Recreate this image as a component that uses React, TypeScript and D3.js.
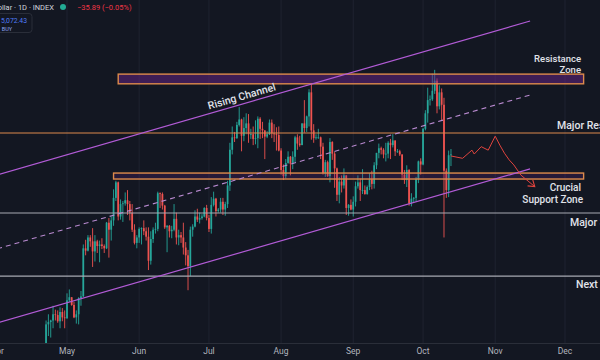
import React from "react";
import * as d3 from "d3";

// ---------- DATA (BTC/USD daily, values in thousands USD: [open, high, low, close]) ----------
const aprStart = "2025-04-22";
const aprCandles: number[][] = [
  [87.5, 93.9, 87.0, 93.4], [93.4, 94.7, 91.9, 93.7], [93.7, 94.0, 91.7, 93.9], [93.9, 95.8, 92.9, 94.7],
  [94.7, 95.3, 93.9, 94.6], [94.6, 95.2, 93.6, 93.8], [93.8, 95.6, 92.9, 95.0], [95.0, 95.5, 93.8, 94.3],
  [94.3, 95.2, 92.9, 94.2],
];
const mayStart = "2025-05-01";
const mayCandles: number[][] = [
  [94.2, 97.4, 94.1, 96.5], [96.5, 97.9, 96.3, 96.9], [96.9, 96.9, 95.8, 95.9], [95.9, 96.3, 94.2, 94.3],
  [94.3, 95.2, 93.5, 94.7], [94.7, 96.9, 93.4, 96.8], [96.8, 97.7, 95.8, 97.0], [97.0, 103.7, 96.9, 103.2],
  [103.2, 104.3, 102.3, 102.9], [102.9, 104.9, 102.8, 104.6], [104.6, 104.9, 103.4, 104.1], [104.1, 105.8, 100.8, 102.8],
  [102.8, 104.9, 101.5, 104.1], [104.1, 104.3, 102.6, 103.5], [103.5, 104.2, 101.4, 103.7], [103.7, 104.5, 103.1, 103.5],
  [103.5, 103.7, 102.6, 103.2], [103.2, 106.6, 103.1, 106.5], [106.5, 107.1, 102.0, 105.6], [105.6, 107.3, 104.2, 106.8],
  [106.8, 110.8, 106.1, 109.7], [109.7, 111.9, 109.3, 111.7], [111.7, 111.8, 106.8, 107.3], [107.3, 109.5, 106.9, 108.9],
  [108.9, 109.3, 106.6, 109.0], [109.0, 110.4, 108.7, 109.4], [109.4, 110.7, 107.5, 108.9], [108.9, 109.3, 106.8, 107.8],
  [107.8, 108.9, 105.3, 105.6], [105.6, 106.3, 103.7, 103.9], [103.9, 104.9, 103.2, 104.6],
];
const junStart = "2025-06-01";
const junCandles: number[][] = [
  [104.6, 105.9, 103.9, 105.7], [105.7, 105.9, 103.7, 105.8], [105.8, 106.8, 104.9, 105.4], [105.4, 105.9, 104.2, 104.7],
  [104.7, 105.9, 100.4, 101.6], [101.6, 105.4, 101.1, 104.4], [104.4, 105.9, 103.9, 105.6], [105.6, 106.5, 105.1, 105.7],
  [105.7, 110.5, 105.4, 110.3], [110.3, 110.4, 108.4, 110.2], [110.2, 110.4, 108.2, 108.7], [108.7, 108.8, 105.7, 105.9],
  [105.9, 106.2, 102.7, 106.1], [106.1, 106.2, 104.6, 105.4], [105.4, 106.1, 104.5, 105.6], [105.6, 108.9, 105.4, 107.0],
  [107.0, 107.8, 103.7, 104.6], [104.6, 105.6, 103.6, 104.9], [104.9, 105.3, 103.9, 104.6], [104.6, 106.5, 102.4, 103.3],
  [103.3, 104.0, 101.0, 102.3], [102.3, 103.0, 97.8, 100.9], [100.9, 106.0, 99.6, 105.6], [105.6, 106.3, 104.7, 106.0],
  [106.0, 108.1, 105.9, 107.3], [107.3, 108.3, 106.6, 106.9], [106.9, 107.8, 106.4, 107.1], [107.1, 107.6, 106.9, 107.3],
  [107.3, 108.5, 107.2, 108.4], [108.4, 108.8, 106.8, 107.1],
];
const julStart = "2025-07-01";
const julCandles: number[][] = [
  [107.1, 107.5, 105.3, 105.7], [105.7, 109.8, 105.1, 108.8], [108.8, 110.5, 108.6, 109.6], [109.6, 109.7, 107.3, 108.0],
  [108.0, 108.4, 107.8, 108.2], [108.2, 109.7, 107.8, 109.2], [109.2, 109.7, 107.5, 108.2], [108.2, 109.2, 107.4, 108.9],
  [108.9, 111.9, 108.4, 111.3], [111.3, 116.8, 110.6, 115.9], [115.9, 118.9, 115.3, 117.5], [117.5, 118.2, 116.9, 117.4],
  [117.4, 119.5, 117.3, 119.1], [119.1, 121.4, 118.9, 119.8], [119.8, 119.9, 115.7, 117.7], [117.7, 120.1, 117.0, 118.7],
  [118.7, 120.6, 117.9, 119.3], [119.3, 120.5, 116.8, 117.9], [117.9, 118.6, 117.3, 117.9], [117.9, 118.9, 116.5, 117.3],
  [117.3, 119.7, 116.6, 117.4], [117.4, 120.2, 116.1, 119.9], [119.9, 120.1, 117.3, 118.6], [118.6, 119.5, 117.4, 118.4],
  [118.4, 118.4, 114.7, 117.6], [117.6, 118.3, 117.4, 117.9], [117.9, 119.8, 117.8, 119.4], [119.4, 119.8, 117.4, 118.0],
  [118.0, 119.2, 116.9, 117.9], [117.9, 118.8, 115.8, 117.8], [117.8, 118.9, 115.7, 115.8],
];
const augStart = "2025-08-01";
const augCandles: number[][] = [
  [115.8, 116.1, 112.7, 113.3], [113.3, 114.0, 112.0, 112.5], [112.5, 114.7, 112.2, 114.2], [114.2, 115.7, 114.1, 115.0],
  [115.0, 115.1, 112.6, 114.1], [114.1, 115.7, 113.4, 115.0], [115.0, 117.7, 114.3, 117.5], [117.5, 117.9, 115.9, 116.7],
  [116.7, 117.7, 116.3, 116.5], [116.5, 119.3, 116.5, 119.3], [119.3, 122.3, 118.1, 118.7], [118.7, 120.3, 118.2, 120.2],
  [120.2, 123.7, 118.9, 123.3], [123.3, 124.5, 117.2, 118.4], [118.4, 119.2, 116.8, 117.4], [117.4, 117.9, 117.2, 117.5],
  [117.5, 118.6, 117.3, 117.5], [117.5, 117.6, 114.7, 116.3], [116.3, 116.8, 112.7, 112.9], [112.9, 114.6, 112.4, 114.3],
  [114.3, 114.5, 112.4, 112.5], [112.5, 117.4, 111.7, 116.9], [116.9, 117.0, 114.6, 115.4], [115.4, 115.6, 111.0, 113.5],
  [113.5, 113.6, 109.3, 110.1], [110.1, 112.4, 109.0, 111.8], [111.8, 112.6, 110.4, 111.3], [111.3, 113.5, 110.9, 112.6],
  [112.6, 112.6, 107.5, 108.4], [108.4, 108.9, 107.4, 108.8], [108.8, 109.5, 108.1, 108.2],
];
const sepStart = "2025-09-01";
const sepCandles: number[][] = [
  [108.2, 109.9, 107.3, 109.2], [109.2, 111.8, 108.6, 111.2], [111.2, 112.6, 110.9, 111.7], [111.7, 112.2, 109.3, 110.7],
  [110.7, 113.4, 110.2, 110.7], [110.7, 111.3, 110.1, 110.2], [110.2, 111.3, 110.1, 111.1], [111.1, 112.9, 110.7, 112.1],
  [112.1, 113.2, 110.8, 111.5], [111.5, 114.3, 110.9, 113.9], [113.9, 115.5, 113.4, 115.5], [115.5, 116.7, 114.8, 116.1],
  [116.1, 116.3, 115.3, 115.9], [115.9, 116.1, 114.8, 115.3], [115.3, 116.8, 114.4, 115.4], [115.4, 117.0, 114.8, 116.8],
  [116.8, 117.3, 114.7, 116.5], [116.5, 117.9, 116.2, 117.1], [117.1, 117.1, 115.1, 115.7], [115.7, 116.0, 115.5, 115.7],
  [115.7, 115.9, 115.1, 115.3], [115.3, 115.3, 112.0, 112.7], [112.7, 113.3, 111.5, 112.0], [112.0, 113.9, 111.1, 113.3],
  [113.3, 113.4, 108.7, 109.0], [109.0, 110.3, 108.6, 109.6], [109.6, 109.8, 109.1, 109.7], [109.7, 112.4, 109.2, 112.1],
  [112.1, 114.5, 111.6, 114.4], [114.4, 114.8, 112.7, 114.0],
];
const octStart = "2025-10-01";
const octCandles: number[][] = [
  [114.0, 118.7, 113.9, 118.6], [118.6, 121.0, 118.4, 120.6], [120.6, 123.9, 119.4, 122.3], [122.3, 122.9, 121.6, 122.4],
  [122.4, 125.7, 122.2, 123.5], [123.5, 126.2, 123.1, 124.8], [124.8, 125.1, 120.6, 121.5], [121.5, 124.2, 121.1, 123.3],
  [123.3, 123.8, 119.7, 121.7], [121.7, 122.6, 104.6, 113.2], [113.2, 113.5, 109.7, 110.7], [110.7, 115.8, 109.8, 115.2],
  [115.2, 116.0, 113.8, 115.3],
];

// Drawn levels (thousands USD)
const resistanceZone = [124.4, 125.65];
const supportZone = [112.13, 112.9];
const majorResistance = 118.06;
const majorSupport = 107.75;
const nextSupport = 99.63;
const zoneStart = ["2025-05-23", "2025-05-21"];
const zoneEnd = "2025-12-09";

// Rising channel endpoints
const channelDates = ["2025-04-01", "2025-11-16"];
const channelUpper = [112.67, 132.49];
const channelMid = [103.14, 122.96];
const channelLower = [93.6, 113.43];

// Projected path
const forecastDates = [
  "2025-10-13", "2025-10-18", "2025-10-22", "2025-10-23", "2025-10-26", "2025-10-29", "2025-11-01",
  "2025-11-03", "2025-11-05", "2025-11-07", "2025-11-09", "2025-11-12", "2025-11-18",
];
const forecastPrices = [115.1, 114.8, 115.85, 115.35, 116.3, 115.85, 117.65, 116.5, 115.45, 114.6, 113.95, 112.65, 111.15];

const monthLabels = ["Apr", "May", "Jun", "Jul", "Aug", "Sep", "Oct", "Nov", "Dec"];

// ---------- helpers ----------
const d = (s: string) => new Date(s + "T00:00:00Z");
function build(start: string, rows: number[][]) {
  const d0 = d(start);
  return rows.map((r, i) => ({ date: d3.utcDay.offset(d0, i), o: r[0], h: r[1], l: r[2], c: r[3] }));
}

const W = 600;
const H = 360;
const PLOT_BOTTOM = 343;

const UP = "#26a69a";
const DOWN = "#ef5350";
const PURPLE = "#b25bd6";
const ORANGE = "#dd8a4c";
const GREY = "#a7aab2";
const TEXT = "#e1e3ea";
const FONT = "Roboto, 'Noto Sans', sans-serif";

export default function App() {
  const candles = [
    ...build(aprStart, aprCandles),
    ...build(mayStart, mayCandles),
    ...build(junStart, junCandles),
    ...build(julStart, julCandles),
    ...build(augStart, augCandles),
    ...build(sepStart, sepCandles),
    ...build(octStart, octCandles),
  ];

  const x = d3.scaleUtc().domain([d("2025-04-01"), d("2025-12-01")]).range([-2.8, 565]);
  const y = d3.scaleLinear().domain([91, 135.2]).range([PLOT_BOTTOM, 0]);

  const dayW = x(d("2025-04-02")) - x(d("2025-04-01"));
  const bw = dayW * 0.75;

  const months = d3.utcMonth.range(d("2025-04-01"), d("2025-12-02"));

  const chan = (vals: number[]) => ({
    x1: x(d(channelDates[0])), y1: y(vals[0]), x2: x(d(channelDates[1])), y2: y(vals[1]),
  });
  const up = chan(channelUpper);
  const mid = chan(channelMid);
  const lo = chan(channelLower);
  const angle = (Math.atan2(up.y2 - up.y1, up.x2 - up.x1) * 180) / Math.PI;

  // Rising Channel label position on upper line
  const labelDate = d("2025-07-16");
  const t = (x(labelDate) - up.x1) / (up.x2 - up.x1);
  const lx = x(labelDate);
  const ly = up.y1 + t * (up.y2 - up.y1);

  const forecastLine = d3
    .line<number>()
    .x((_, i) => x(d(forecastDates[i])))
    .y((v) => y(v))(forecastPrices);

  const zoneRect = (z: number[], start: string) => ({
    x: x(d(start)), y: y(z[1]), w: x(d(zoneEnd)) - x(d(start)), h: y(z[0]) - y(z[1]),
  });
  const rz = zoneRect(resistanceZone, zoneStart[0]);
  const sz = zoneRect(supportZone, zoneStart[1]);

  return (
    <svg
      width={W}
      height={H}
      style={{ position: "fixed", left: 0, top: 0, display: "block" }}
      fontFamily={FONT}
    >
      <defs>
        <clipPath id="plot">
          <rect x={0} y={0} width={W} height={PLOT_BOTTOM} />
        </clipPath>
        <marker id="arrow" markerWidth={10} markerHeight={10} refX={7} refY={5} orient="auto" markerUnits="userSpaceOnUse">
          <path d="M1,1 L7,5 L1,9" fill="none" stroke="#e0443e" strokeWidth={1.1} />
        </marker>
      </defs>
      <rect x={0} y={0} width={W} height={H} fill="#131722" />

      {/* vertical grid */}
      {months.map((m, i) => (
        <line key={i} x1={x(m)} x2={x(m)} y1={0} y2={PLOT_BOTTOM} stroke="#1f2330" strokeWidth={1} />
      ))}

      {/* time axis */}
      <line x1={0} x2={W} y1={PLOT_BOTTOM + 0.5} y2={PLOT_BOTTOM + 0.5} stroke="#2a2e39" />
      {months.map((m, i) => (
        <text key={i} x={x(m)} y={354} fontSize={8.5} fill="#b2b5be" textAnchor="middle">
          {monthLabels[i]}
        </text>
      ))}

      {/* candles */}
      <g clipPath="url(#plot)">
        {candles.map((k, i) => {
          const cx = x(k.date);
          const col = k.c >= k.o ? UP : DOWN;
          const top = y(Math.max(k.o, k.c));
          const bot = y(Math.min(k.o, k.c));
          return (
            <g key={i}>
              <line x1={cx} x2={cx} y1={y(k.h)} y2={y(k.l)} stroke={col} strokeWidth={0.9} />
              <rect x={cx - bw / 2} y={top} width={bw} height={Math.max(0.8, bot - top)} fill={col} />
            </g>
          );
        })}
      </g>

      {/* zones */}
      <rect x={rz.x} y={rz.y} width={rz.w} height={rz.h} fill="rgba(105,35,135,0.5)" stroke={ORANGE} strokeWidth={1.4} />
      <rect x={sz.x} y={sz.y} width={sz.w} height={sz.h} fill="rgba(105,35,135,0.22)" stroke={ORANGE} strokeWidth={1.4} />

      {/* horizontal levels */}
      <line x1={0} x2={W} y1={y(majorResistance)} y2={y(majorResistance)} stroke={ORANGE} strokeWidth={1} />
      <line x1={0} x2={W} y1={y(majorSupport)} y2={y(majorSupport)} stroke={GREY} strokeWidth={1.2} />
      <line x1={0} x2={W} y1={y(nextSupport)} y2={y(nextSupport)} stroke={GREY} strokeWidth={1.2} />

      {/* channel */}
      <line {...up} stroke={PURPLE} strokeWidth={1.2} />
      <line {...lo} stroke={PURPLE} strokeWidth={1.2} />
      <line {...mid} stroke="#b98ad0" strokeWidth={1.1} strokeDasharray="5,4" />

      {/* forecast */}
      <path d={forecastLine || ""} fill="none" stroke="#e0443e" strokeWidth={1} markerEnd="url(#arrow)" />

      {/* annotations */}
      <g transform={`translate(${lx},${ly}) rotate(${angle})`}>
        <text x={0} y={-4} fontSize={10.5} fill={TEXT} textAnchor="middle" fontWeight={500}>
          Rising Channel
        </text>
      </g>
      <text x={581} y={y(resistanceZone[1]) - 12.5} fontSize={9.5} fill={TEXT} textAnchor="end" fontWeight={500}>
        Resistance
      </text>
      <text x={581} y={y(resistanceZone[1]) - 1.5} fontSize={9.5} fill={TEXT} textAnchor="end" fontWeight={500}>
        Zone
      </text>
      <text x={557} y={y(majorResistance) - 4} fontSize={10.5} fill={TEXT} fontWeight={500}>
        Major Resistance
      </text>
      <text x={581} y={y(supportZone[0]) + 11.5} fontSize={10} fill={TEXT} textAnchor="end" fontWeight={500}>
        Crucial
      </text>
      <text x={583} y={y(supportZone[0]) + 23.5} fontSize={10} fill={TEXT} textAnchor="end" fontWeight={500}>
        Support Zone
      </text>
      <text x={570} y={y(majorSupport) + 13} fontSize={10.5} fill={TEXT} fontWeight={500}>
        Major Support
      </text>
      <text x={576} y={y(nextSupport) + 12} fontSize={10.5} fill={TEXT} fontWeight={500}>
        Next Support
      </text>

      {/* header */}
      <text x={54} y={10} fontSize={7.5} fill="#d1d4dc" textAnchor="end">
        Bitcoin / U.S. Dollar · 1D · INDEX
      </text>
      <circle cx={63} cy={7} r={3} fill="#22ab94" />
      <text x={77} y={10} fontSize={7.5} fill="#f23645">
        −35.89 (−0.05%)
      </text>
      <rect x={-40} y={13.5} width={72} height={19} rx={3} fill="#131722" stroke="#2a2e39" />
      <text x={27} y={23} fontSize={6.8} fill="#4f7bf7" textAnchor="end">
        115,072.43
      </text>
      <text x={7} y={30.5} fontSize={5.5} fill="#8fa6f5" textAnchor="middle">
        BUY
      </text>
    </svg>
  );
}
